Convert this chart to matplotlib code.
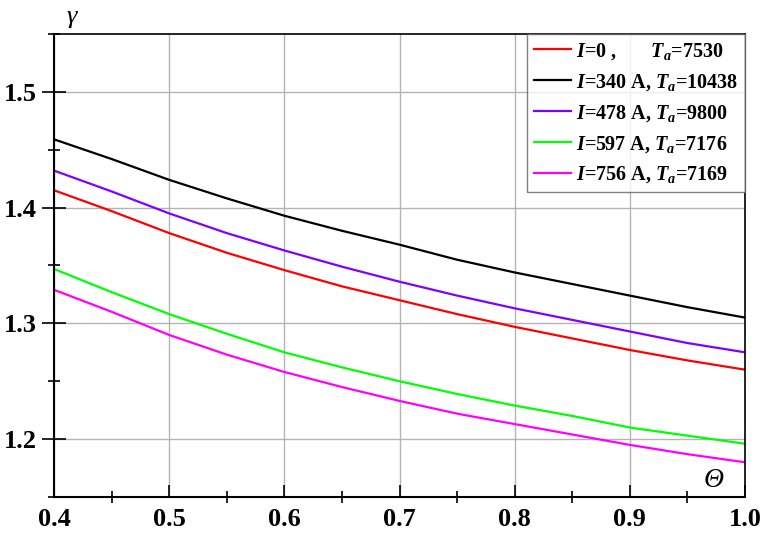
import matplotlib
matplotlib.use('Agg')
import matplotlib.pyplot as plt
from matplotlib.ticker import MultipleLocator

plt.rcParams['font.family'] = 'Liberation Serif'
plt.rcParams['mathtext.fontset'] = 'custom'
plt.rcParams['mathtext.rm'] = 'Liberation Serif:bold'
plt.rcParams['mathtext.it'] = 'Liberation Serif:italic:bold'

# значения
theta = [0.40, 0.45, 0.50, 0.55, 0.60, 0.65, 0.70, 0.75, 0.80, 0.85, 0.90, 0.95, 1.00]
g_red = [1.415, 1.397, 1.378, 1.361, 1.346, 1.332, 1.320, 1.308, 1.297, 1.287, 1.277, 1.268, 1.260]
g_black = [1.459, 1.442, 1.424, 1.408, 1.393, 1.380, 1.368, 1.355, 1.344, 1.334, 1.324, 1.314, 1.305]
g_purple = [1.432, 1.414, 1.395, 1.378, 1.363, 1.349, 1.336, 1.324, 1.313, 1.303, 1.293, 1.283, 1.275]
g_green = [1.347, 1.327, 1.308, 1.291, 1.275, 1.262, 1.250, 1.239, 1.229, 1.220, 1.210, 1.203, 1.196]
g_magenta = [1.329, 1.310, 1.290, 1.273, 1.258, 1.245, 1.233, 1.222, 1.213, 1.204, 1.195, 1.187, 1.180]

labels = [r'$I$=0 ,       $T_a$=7530',
          r'$I$=340 A, $T_a$=10438',
          r'$I$=478 A, $T_a$=9800',
          r'$I$=597 A, $T_a$=7176',
          r'$I$=756 A, $T_a$=7169']
colors = ['#ff0000', '#000000', '#8000ff', '#00ff00', '#ff00ff']
series = [g_red, g_black, g_purple, g_green, g_magenta]

fig = plt.figure(figsize=(7.69, 5.41), dpi=100)
ax = fig.add_axes([54 / 769, 1 - 497 / 541, (745 - 54) / 769, (497 - 34) / 541])

for ys, c, lab in zip(series, colors, labels):
    ax.plot(theta, ys, color=c, lw=1.6, label=lab)

ax.set_xlim(0.4, 1.0)
ax.set_ylim(1.15, 1.55)
ax.xaxis.set_major_locator(MultipleLocator(0.1))
ax.xaxis.set_minor_locator(MultipleLocator(0.05))
ax.yaxis.set_major_locator(MultipleLocator(0.1))
ax.yaxis.set_minor_locator(MultipleLocator(0.05))
ax.grid(True, which='major', color='#b4b4b4', lw=1.0)

ax.tick_params(axis='x', which='major', direction='in', length=9, width=1.2, pad=8, labelsize=19)
ax.tick_params(axis='x', which='minor', direction='inout', length=9, width=1.2)
ax.tick_params(axis='y', which='major', direction='inout', length=17, width=1.2, pad=4, labelsize=19)
ax.tick_params(axis='y', which='minor', direction='inout', length=9, width=1.2)
for lab in ax.get_xticklabels() + ax.get_yticklabels():
    lab.set_fontweight('bold')

for s in ['left', 'bottom']:
    ax.spines[s].set_linewidth(1.5)
for s in ['top', 'right']:
    ax.spines[s].set_linewidth(1.2)

fig.text(72 / 769, 1 - 17 / 541, 'γ', fontsize=19, style='italic', ha='center', va='center')
ax.text(0.955, 0.035, 'Θ', transform=ax.transAxes, fontsize=20, style='italic',
        ha='center', va='center')

leg = ax.legend(loc='upper right', bbox_to_anchor=(1.0, 1.0),
                prop={'weight': 'bold', 'size': 14.5}, frameon=True, fancybox=False,
                borderaxespad=0, handlelength=1.8, handletextpad=0.25,
                labelspacing=0.5, borderpad=0.35)
leg.get_frame().set_edgecolor('#606060')
leg.get_frame().set_linewidth(1.0)

fig.savefig('out.png', dpi=100)
